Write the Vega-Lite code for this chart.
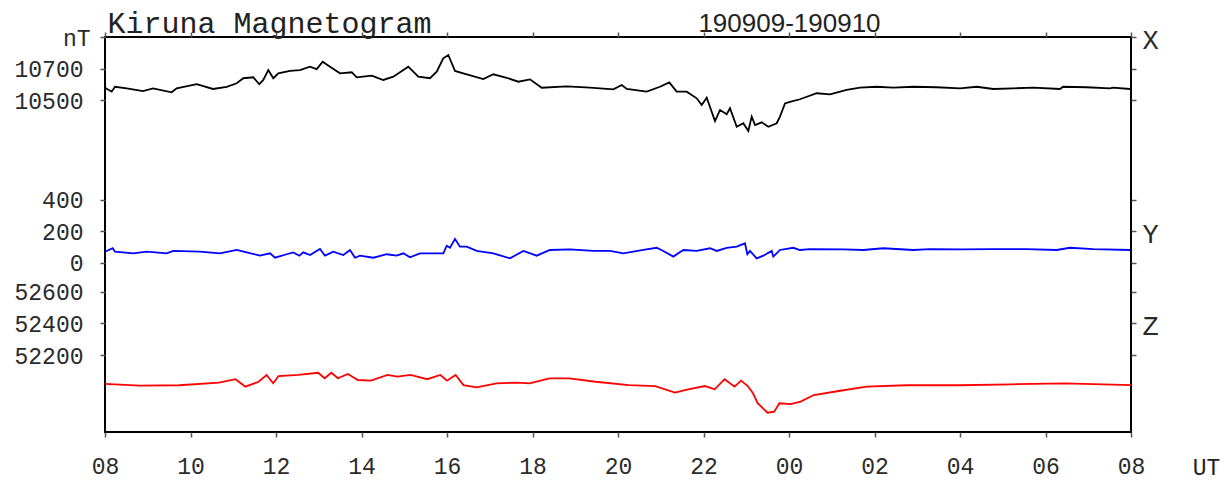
{
  "$schema": "https://vega.github.io/schema/vega-lite/v6.json",
  "width": 1026,
  "height": 395,
  "autosize": {"type": "none"},
  "padding": {"left": 105, "top": 37, "right": 98, "bottom": 49},
  "background": "white",
  "config": {
    "view": {"stroke": "#000000", "strokeWidth": 2},
    "axis": {"grid": false, "domain": false, "labelFlush": false, "labelFont": "Liberation Mono", "labelColor": "#2a2a2a", "tickColor": "#555555", "tickWidth": 1.5, "titleFont": "Liberation Mono", "titleFontWeight": "normal", "titleColor": "#222222"}
  },
  "datasets": {
    "X": [
      {"t":8.0,"v":10579},{"t":8.157,"v":10554},{"t":8.234,"v":10585},{"t":8.508,"v":10575},{"t":8.889,"v":10558},{"t":9.123,"v":10575},{"t":9.56,"v":10550},{"t":9.677,"v":10575},{"t":10.145,"v":10601},{"t":10.526,"v":10571},{"t":10.847,"v":10585},{"t":11.081,"v":10607},{"t":11.235,"v":10639},{"t":11.469,"v":10645},{"t":11.609,"v":10601},{"t":11.703,"v":10628},{"t":11.82,"v":10691},{"t":11.937,"v":10639},{"t":12.054,"v":10670},{"t":12.327,"v":10685},{"t":12.561,"v":10691},{"t":12.795,"v":10712},{"t":12.952,"v":10697},{"t":13.092,"v":10744},{"t":13.263,"v":10712},{"t":13.497,"v":10670},{"t":13.771,"v":10677},{"t":13.888,"v":10645},{"t":14.239,"v":10655},{"t":14.51,"v":10628},{"t":14.744,"v":10649},{"t":15.095,"v":10712},{"t":15.329,"v":10649},{"t":15.602,"v":10639},{"t":15.759,"v":10680},{"t":15.913,"v":10765},{"t":16.03,"v":10786},{"t":16.187,"v":10685},{"t":16.381,"v":10670},{"t":16.849,"v":10634},{"t":17.083,"v":10664},{"t":17.397,"v":10642},{"t":17.668,"v":10617},{"t":17.942,"v":10632},{"t":18.215,"v":10579},{"t":18.8,"v":10588},{"t":19.345,"v":10579},{"t":19.89,"v":10569},{"t":20.087,"v":10596},{"t":20.204,"v":10571},{"t":20.671,"v":10554},{"t":20.982,"v":10585},{"t":21.2,"v":10613},{"t":21.373,"v":10554},{"t":21.607,"v":10554},{"t":21.841,"v":10512},{"t":21.958,"v":10470},{"t":22.075,"v":10516},{"t":22.269,"v":10368},{"t":22.386,"v":10438},{"t":22.543,"v":10411},{"t":22.62,"v":10449},{"t":22.777,"v":10332},{"t":22.931,"v":10354},{"t":23.048,"v":10305},{"t":23.128,"v":10396},{"t":23.205,"v":10343},{"t":23.361,"v":10360},{"t":23.516,"v":10332},{"t":23.712,"v":10354},{"t":23.789,"v":10396},{"t":23.906,"v":10480},{"t":24.023,"v":10490},{"t":24.257,"v":10506},{"t":24.648,"v":10544},{"t":24.959,"v":10537},{"t":25.349,"v":10565},{"t":25.661,"v":10579},{"t":26.051,"v":10585},{"t":26.44,"v":10579},{"t":26.908,"v":10585},{"t":27.455,"v":10582},{"t":28.0,"v":10575},{"t":28.39,"v":10585},{"t":28.78,"v":10571},{"t":29.24,"v":10575},{"t":29.716,"v":10579},{"t":30.34,"v":10571},{"t":30.409,"v":10585},{"t":30.96,"v":10582},{"t":31.51,"v":10575},{"t":31.579,"v":10579},{"t":31.977,"v":10571}
    ],
    "Y": [
      {"t":8.0,"v":71},{"t":8.18,"v":93},{"t":8.234,"v":71},{"t":8.662,"v":61},{"t":8.975,"v":71},{"t":9.443,"v":61},{"t":9.598,"v":76},{"t":10.222,"v":71},{"t":10.69,"v":61},{"t":11.081,"v":82},{"t":11.315,"v":67},{"t":11.626,"v":46},{"t":11.86,"v":61},{"t":11.977,"v":33},{"t":12.25,"v":55},{"t":12.405,"v":67},{"t":12.545,"v":46},{"t":12.639,"v":67},{"t":12.795,"v":50},{"t":13.029,"v":88},{"t":13.146,"v":46},{"t":13.34,"v":71},{"t":13.574,"v":50},{"t":13.731,"v":82},{"t":13.848,"v":33},{"t":13.965,"v":46},{"t":14.276,"v":33},{"t":14.59,"v":55},{"t":14.823,"v":46},{"t":14.978,"v":61},{"t":15.135,"v":36},{"t":15.368,"v":61},{"t":15.914,"v":61},{"t":15.993,"v":109},{"t":16.07,"v":96},{"t":16.187,"v":152},{"t":16.304,"v":103},{"t":16.461,"v":103},{"t":16.695,"v":76},{"t":17.083,"v":61},{"t":17.474,"v":29},{"t":17.785,"v":76},{"t":18.098,"v":46},{"t":18.409,"v":82},{"t":18.877,"v":86},{"t":19.422,"v":76},{"t":19.813,"v":76},{"t":20.124,"v":61},{"t":20.592,"v":82},{"t":20.905,"v":96},{"t":21.06,"v":76},{"t":21.294,"v":40},{"t":21.528,"v":82},{"t":21.841,"v":76},{"t":22.152,"v":93},{"t":22.309,"v":76},{"t":22.543,"v":96},{"t":22.777,"v":103},{"t":22.971,"v":124},{"t":23.025,"v":55},{"t":23.088,"v":76},{"t":23.244,"v":29},{"t":23.399,"v":46},{"t":23.595,"v":76},{"t":23.633,"v":40},{"t":23.789,"v":82},{"t":24.101,"v":96},{"t":24.257,"v":82},{"t":24.491,"v":88},{"t":25.27,"v":86},{"t":25.738,"v":82},{"t":26.206,"v":93},{"t":26.908,"v":82},{"t":27.298,"v":88},{"t":28.0,"v":86},{"t":28.779,"v":88},{"t":29.56,"v":88},{"t":30.262,"v":82},{"t":30.573,"v":96},{"t":31.119,"v":88},{"t":31.98,"v":82}
    ],
    "Z": [
      {"t":8.0,"v":52017},{"t":8.812,"v":52006},{"t":9.738,"v":52009},{"t":10.667,"v":52025},{"t":11.053,"v":52047},{"t":11.284,"v":52000},{"t":11.593,"v":52031},{"t":11.78,"v":52074},{"t":11.935,"v":52021},{"t":12.058,"v":52067},{"t":12.522,"v":52074},{"t":12.985,"v":52088},{"t":13.139,"v":52053},{"t":13.294,"v":52088},{"t":13.448,"v":52053},{"t":13.682,"v":52080},{"t":13.914,"v":52042},{"t":14.222,"v":52038},{"t":14.608,"v":52074},{"t":14.84,"v":52063},{"t":15.149,"v":52074},{"t":15.537,"v":52047},{"t":15.846,"v":52074},{"t":16.0,"v":52038},{"t":16.201,"v":52074},{"t":16.386,"v":52010},{"t":16.695,"v":51996},{"t":17.16,"v":52021},{"t":17.624,"v":52025},{"t":17.932,"v":52021},{"t":18.396,"v":52053},{"t":18.861,"v":52053},{"t":19.478,"v":52031},{"t":20.253,"v":52010},{"t":20.87,"v":52004},{"t":21.333,"v":51962},{"t":21.642,"v":51983},{"t":22.03,"v":52004},{"t":22.262,"v":51983},{"t":22.494,"v":52047},{"t":22.725,"v":52000},{"t":22.88,"v":52038},{"t":23.034,"v":52004},{"t":23.158,"v":51958},{"t":23.266,"v":51895},{"t":23.499,"v":51835},{"t":23.654,"v":51842},{"t":23.775,"v":51895},{"t":24.04,"v":51890},{"t":24.271,"v":51905},{"t":24.58,"v":51947},{"t":25.197,"v":51974},{"t":25.817,"v":52000},{"t":26.743,"v":52009},{"t":27.981,"v":52009},{"t":29.216,"v":52015},{"t":30.454,"v":52021},{"t":32.0,"v":52010}
    ]
  },
  "layer": [
    {
      "data": {"name": "X"},
      "mark": {"type": "line", "color": "#000000", "strokeWidth": 1.8},
      "encoding": {
        "x": {"field": "t", "type": "quantitative", "scale": {"domain": [8, 32], "nice": false, "zero": false},
          "axis": {"orient": "bottom", "values": [8,10,12,14,16,18,20,22,24,26,28,30,32], "labelExpr": "(datum.value % 24 < 10 ? '0' : '') + (datum.value % 24)", "labelFlush": false, "labelAlign": "center", "tickSize": 5, "labelPadding": 18, "labelFontSize": 23, "labelBaseline": "top", "title": "UT", "titleX": 1101, "titleY": 35, "titleAlign": "center", "titleBaseline": "middle", "titleFontSize": 23, "titleAngle": 0}},
        "y": {"field": "v", "type": "quantitative", "scale": {"domain": [8400, 10900], "nice": false, "zero": false},
          "axis": {"orient": "left", "values": [10500, 10700, 10900], "format": "d", "labelExpr": "datum.value == 10900 ? 'nT' : datum.label", "tickSize": 5, "labelPadding": {"condition": {"test": "datum.value == 10900", "value": 10}, "value": 17}, "labelFontSize": 23, "labelBaseline": "middle", "labelOffset": 1, "title": "Kiruna Magnetogram", "titleAngle": 0, "titleX": 2, "titleY": -5, "titleAlign": "left", "titleBaseline": "alphabetic", "titleFontSize": 30}}
      }
    },
    {
      "data": {"name": "X"},
      "mark": {"type": "line", "strokeOpacity": 0},
      "encoding": {
        "x": {"field": "t", "type": "quantitative", "scale": {"domain": [8, 32], "nice": false, "zero": false},
          "axis": {"orient": "top", "values": [8,10,12,14,16,18,20,22,24,26,28,30,32], "labels": false, "tickSize": 5, "title": "190909-190910", "titleX": 684, "titleY": -14, "titleAlign": "center", "titleBaseline": "middle", "titleFont": "Liberation Sans", "titleFontSize": 26, "titleAngle": 0}},
        "y": {"field": "v", "type": "quantitative", "scale": {"domain": [8400, 10900], "nice": false, "zero": false},
          "axis": {"orient": "right", "values": [10500, 10700, 10900], "labelExpr": "datum.value == 10900 ? 'X' : ''", "tickSize": 5, "labelPadding": 6, "labelFontSize": 27, "labelBaseline": "middle", "labelOffset": 3, "title": null}}
      }
    },
    {
      "data": {"name": "Y"},
      "mark": {"type": "line", "color": "#0000ff", "strokeWidth": 1.8},
      "encoding": {
        "x": {"field": "t", "type": "quantitative", "scale": {"domain": [8, 32], "nice": false, "zero": false}, "axis": null},
        "y": {"field": "v", "type": "quantitative", "scale": {"domain": [-1070, 1430], "nice": false, "zero": false},
          "axis": {"orient": "left", "values": [0, 200, 400], "format": "d", "tickSize": 5, "labelPadding": 17, "labelFontSize": 23, "labelBaseline": "middle", "labelOffset": 1, "title": null}}
      }
    },
    {
      "data": {"name": "Y"},
      "mark": {"type": "line", "strokeOpacity": 0},
      "encoding": {
        "x": {"field": "t", "type": "quantitative", "scale": {"domain": [8, 32], "nice": false, "zero": false}, "axis": null},
        "y": {"field": "v", "type": "quantitative", "scale": {"domain": [-1070, 1430], "nice": false, "zero": false},
          "axis": {"orient": "right", "values": [0, 200, 400], "labelExpr": "datum.value == 200 ? 'Y' : ''", "tickSize": 5, "labelPadding": 6, "labelFontSize": 27, "labelBaseline": "middle", "labelOffset": 3, "title": null}}
      }
    },
    {
      "data": {"name": "Z"},
      "mark": {"type": "line", "color": "#ff0000", "strokeWidth": 1.8},
      "encoding": {
        "x": {"field": "t", "type": "quantitative", "scale": {"domain": [8, 32], "nice": false, "zero": false}, "axis": null},
        "y": {"field": "v", "type": "quantitative", "scale": {"domain": [51713, 54213], "nice": false, "zero": false},
          "axis": {"orient": "left", "values": [52200, 52400, 52600], "format": "d", "tickSize": 5, "labelPadding": 17, "labelFontSize": 23, "labelBaseline": "middle", "labelOffset": 1, "title": null}}
      }
    },
    {
      "data": {"name": "Z"},
      "mark": {"type": "line", "strokeOpacity": 0},
      "encoding": {
        "x": {"field": "t", "type": "quantitative", "scale": {"domain": [8, 32], "nice": false, "zero": false}, "axis": null},
        "y": {"field": "v", "type": "quantitative", "scale": {"domain": [51713, 54213], "nice": false, "zero": false},
          "axis": {"orient": "right", "values": [52200, 52400, 52600], "labelExpr": "datum.value == 52400 ? 'Z' : ''", "tickSize": 5, "labelPadding": 6, "labelFontSize": 27, "labelBaseline": "middle", "labelOffset": 3, "title": null}}
      }
    }
  ],
  "resolve": {"scale": {"y": "independent"}, "axis": {"x": "independent", "y": "independent"}}
}
